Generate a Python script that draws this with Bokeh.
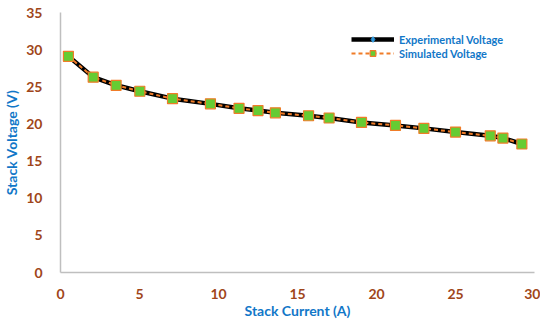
from bokeh.plotting import figure
from bokeh.embed import file_html
from bokeh.resources import INLINE
from bokeh.models import Range1d, Legend, LegendItem, FixedTicker

current = [0.5, 2.07, 3.52, 5.02, 7.09, 9.49, 11.3, 12.5, 13.6, 15.7, 17.0, 19.05, 21.2, 23.0, 25.0, 27.2, 28.0, 29.2]
exp_voltage = [29.1, 26.3, 25.2, 24.4, 23.4, 22.7, 22.1, 21.8, 21.5, 21.1, 20.8, 20.2, 19.8, 19.4, 18.9, 18.4, 18.1, 17.3]
sim_voltage = [29.1, 26.3, 25.2, 24.4, 23.4, 22.7, 22.1, 21.8, 21.5, 21.1, 20.8, 20.2, 19.8, 19.4, 18.9, 18.4, 18.1, 17.3]
x_ticks = [0, 5, 10, 15, 20, 25, 30]
y_ticks = [0, 5, 10, 15, 20, 25, 30, 35]

FONT = "Lato"
TICK_COLOR = "#A0461A"
LABEL_COLOR = "#1177C8"

p = figure(frame_width=474, frame_height=260, output_backend="svg", toolbar_location=None,
           x_range=Range1d(0, 30), y_range=Range1d(0, 35),
           min_border_left=52, min_border_right=6, min_border_top=12, min_border_bottom=40)
p.outline_line_color = None
p.grid.visible = False

for ax in (p.xaxis, p.yaxis):
    ax.axis_line_color = "#BFBFBF"
    ax.axis_line_width = 1.5
    ax.major_tick_line_color = None
    ax.minor_tick_line_color = None
    ax.major_label_text_font = FONT
    ax.major_label_text_font_style = "bold"
    ax.major_label_text_font_size = "14px"
    ax.major_label_text_color = TICK_COLOR
    ax.axis_label_text_font = FONT
    ax.axis_label_text_font_style = "bold"
    ax.axis_label_text_font_size = "14px"
    ax.axis_label_text_color = LABEL_COLOR

p.xaxis.ticker = FixedTicker(ticks=x_ticks)
p.yaxis.ticker = FixedTicker(ticks=y_ticks)
p.xaxis.axis_label = "Stack Current (A)"
p.yaxis.axis_label = "Stack Voltage (V)"
p.xaxis.major_label_standoff = 10
p.xaxis.axis_label_standoff = 0
p.yaxis.major_label_standoff = 12
p.yaxis.axis_label_standoff = 3

l1 = p.line(current, exp_voltage, line_color="black", line_width=4.5)
m1 = p.scatter(current, exp_voltage, marker="diamond", size=7, fill_color="#2F97DA", line_color="#2F97DA")
l2 = p.line(current, sim_voltage, line_color="#F07C28", line_width=2, line_dash="4 3")
m2 = p.scatter(current, sim_voltage, marker="square", size=10, fill_color="#66CC33", line_color="#F07C28", line_width=1.2)

legend = Legend(items=[LegendItem(label="Experimental Voltage", renderers=[l1, m1]),
                       LegendItem(label="Simulated Voltage", renderers=[l2, m2])],
                location=(291, 212))
legend.background_fill_alpha = 0
legend.border_line_color = None
legend.padding = 0
legend.margin = 0
legend.spacing = 0
legend.glyph_width = 43
legend.glyph_height = 14
legend.label_height = 14
legend.label_standoff = 5
legend.label_text_font = FONT
legend.label_text_font_style = "bold"
legend.label_text_font_size = "11px"
legend.label_text_color = LABEL_COLOR
p.add_layout(legend, "center")

open("out.html", "w").write(file_html(p, INLINE))
